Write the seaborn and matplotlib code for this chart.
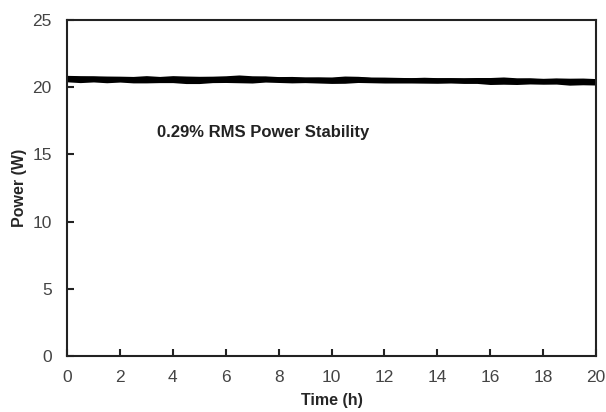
import matplotlib
matplotlib.use("Agg")
import matplotlib.pyplot as plt
import seaborn as sns
import pandas as pd

# tiempo (h) y potencia (W)
time_h = [0.0, 0.5, 1.0, 1.5, 2.0, 2.5, 3.0, 3.5, 4.0, 4.5,
          5.0, 5.5, 6.0, 6.5, 7.0, 7.5, 8.0, 8.5, 9.0, 9.5,
          10.0, 10.5, 11.0, 11.5, 12.0, 12.5, 13.0, 13.5, 14.0, 14.5,
          15.0, 15.5, 16.0, 16.5, 17.0, 17.5, 18.0, 18.5, 19.0, 19.5, 20.0]
power_w = [20.64, 20.60, 20.62, 20.58, 20.60, 20.56, 20.59, 20.57, 20.60, 20.55,
           20.54, 20.58, 20.60, 20.62, 20.58, 20.61, 20.57, 20.56, 20.55, 20.54,
           20.52, 20.56, 20.58, 20.54, 20.53, 20.52, 20.51, 20.52, 20.50, 20.51,
           20.49, 20.50, 20.46, 20.49, 20.45, 20.47, 20.44, 20.46, 20.41, 20.43, 20.40]
# banda de ruido (ancho de la traza)
noise_w = [0.24, 0.26, 0.23, 0.25, 0.22, 0.24, 0.27, 0.23, 0.26, 0.28,
           0.27, 0.24, 0.25, 0.29, 0.27, 0.23, 0.22, 0.24, 0.21, 0.23,
           0.24, 0.27, 0.23, 0.21, 0.22, 0.21, 0.20, 0.22, 0.21, 0.20,
           0.21, 0.22, 0.26, 0.27, 0.25, 0.23, 0.22, 0.23, 0.26, 0.25, 0.24]

df = pd.DataFrame({"Time (h)": time_h, "Power (W)": power_w, "noise": noise_w})
df["lo"] = df["Power (W)"] - df["noise"]
df["hi"] = df["Power (W)"] + df["noise"]

sns.set_style("white")
plt.rcParams["font.family"] = ["Liberation Sans", "DejaVu Sans"]

fig = plt.figure(figsize=(6.06, 4.12), dpi=100)
ax = fig.add_axes([0.1106, 0.1359, 0.8729, 0.8156])

ax.fill_between(df["Time (h)"], df["lo"], df["hi"], color="black", linewidth=0)
sns.lineplot(data=df, x="Time (h)", y="Power (W)", color="black", linewidth=3, ax=ax)

ax.set_xlim(0, 20)
ax.set_ylim(0, 25)
ax.set_xticks(range(0, 21, 2))
ax.set_yticks(range(0, 26, 5))
ax.tick_params(direction="in", length=5, width=1.5, colors="#222222",
               labelcolor="#444444", labelsize=12.5, bottom=True, left=True,
               top=False, right=False)
ax.tick_params(axis="x", pad=10)
ax.tick_params(axis="y", pad=11)
for s in ax.spines.values():
    s.set_visible(True)
    s.set_color("#222222")
    s.set_linewidth(1.5)

ax.set_xlabel("Time (h)", fontsize=11.5, fontweight="bold", labelpad=6)
ax.set_ylabel("Power (W)", fontsize=11.5, fontweight="bold", labelpad=4)
ax.text(3.4, 16.6, "0.29% RMS Power Stability", fontsize=12,
        fontweight="bold", color="#222222", va="center")

plt.savefig("out.png", dpi=100)
